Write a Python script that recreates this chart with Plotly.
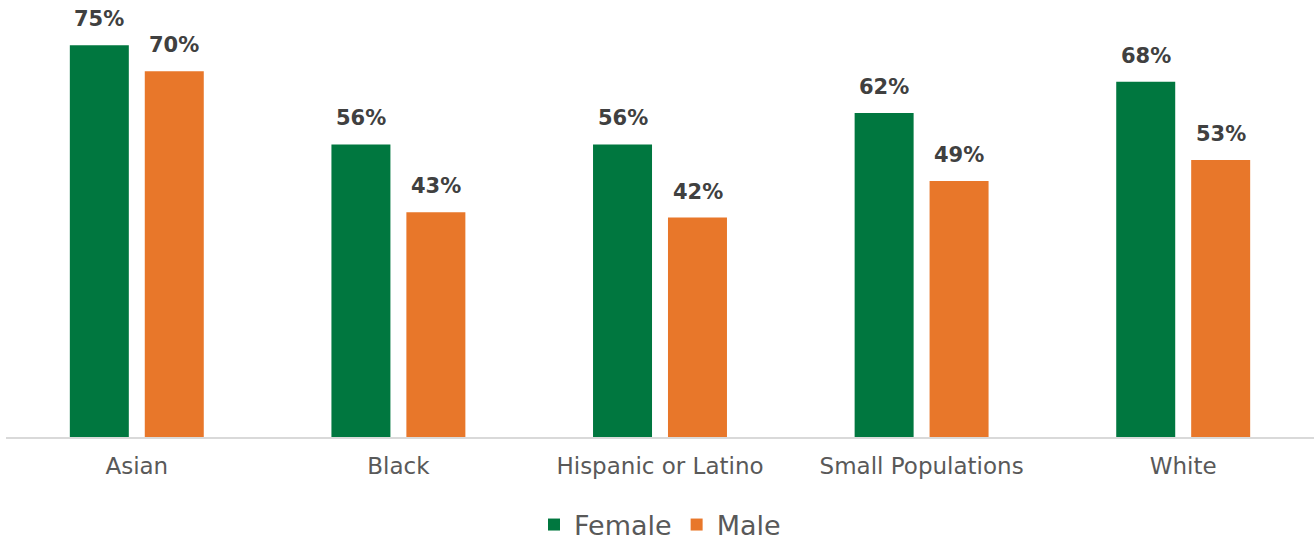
import plotly.graph_objects as go

categories = ["Asian", "Black", "Hispanic or Latino", "Small Populations", "White"]
female = [75, 56, 56, 62, 68]
male = [70, 43, 42, 49, 53]

GREEN = "#00773F"
ORANGE = "#E8772A"
FONT = "DejaVu Sans"

fig = go.Figure()
fig.add_trace(go.Bar(name="Female", x=categories, y=female, marker=dict(color=GREEN, line=dict(width=0))))
fig.add_trace(go.Bar(name="Male", x=categories, y=male, marker=dict(color=ORANGE, line=dict(width=0))))

# value labels above bars
offset = 37.5
for vals, sh in ((female, -offset), (male, offset)):
    for c, v in zip(categories, vals):
        fig.add_annotation(x=c, y=v, text=f"<b>{v}%</b>", showarrow=False,
                           xshift=sh, yshift=26, yanchor="middle",
                           font=dict(family=FONT, size=21, color="#404040"))

fig.update_layout(
    width=1314, height=540,
    margin=dict(l=6, r=0, t=19, b=103, autoexpand=False),
    paper_bgcolor="white", plot_bgcolor="white",
    barmode="group", bargap=0.427, bargroupgap=0.213,
    font=dict(family=FONT, color="#595959"),
    xaxis=dict(showline=True, linecolor="#D9D9D9", linewidth=2, ticks="",
               tickfont=dict(size=23, color="#595959"), showgrid=False,
               ticklabelstandoff=7, automargin=False),
    yaxis=dict(range=[0, 80], visible=False, showgrid=False, zeroline=False),
    legend=dict(orientation="h", x=0.5, xanchor="center", y=-0.2105, yanchor="middle",
                font=dict(size=27, color="#595959"), itemwidth=30, traceorder="normal"),
    showlegend=True,
)

fig.write_html("out.html", config={"displayModeBar": False},
               post_script="document.body.style.margin='0';")
